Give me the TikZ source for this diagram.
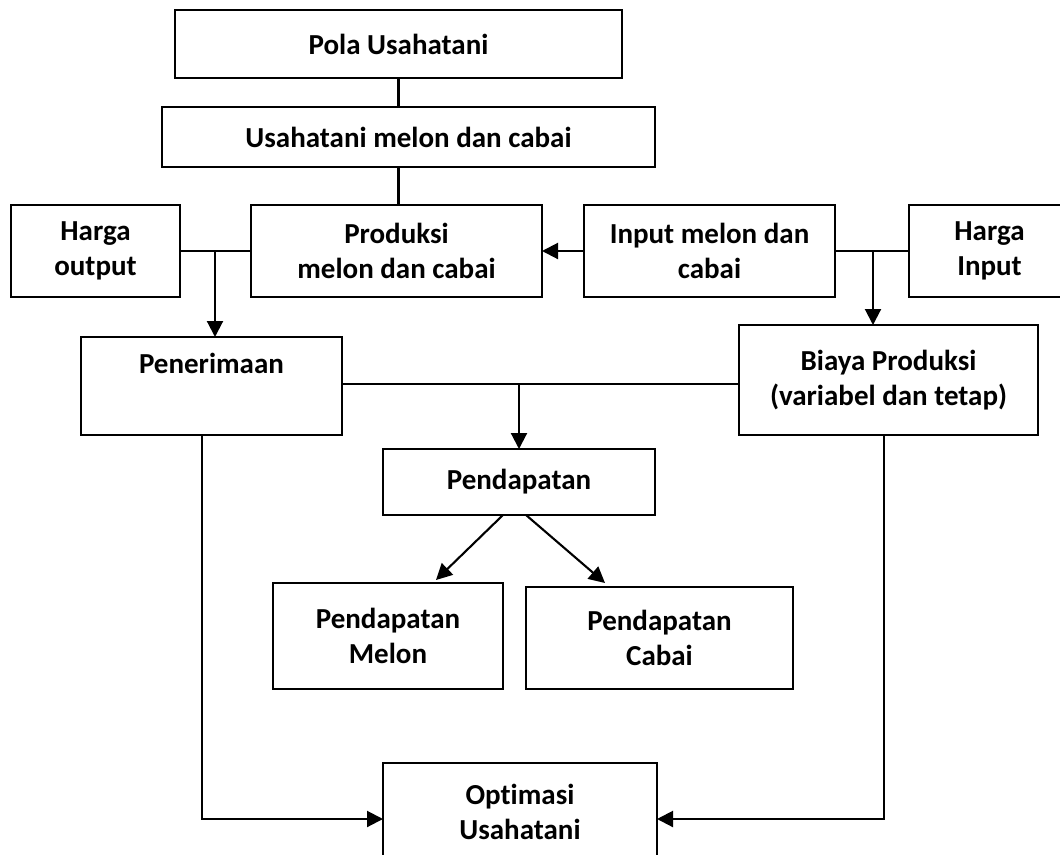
\documentclass[tikz,border=0pt]{standalone}
\usepackage{fontspec}
\setmainfont{Carlito}[Ligatures=NoCommon]
\usepackage{tikz}
\usetikzlibrary{calc,arrows.meta}

\begin{document}
\begin{tikzpicture}[x=1pt,y=-1pt,>={Triangle[length=16pt,width=16pt]},
    kotak/.style={draw,line width=2.2pt,inner sep=0pt,outer sep=0pt,align=center,
        font=\fontsize{29}{35}\selectfont\bfseries},
    garis/.style={line width=2.1pt}]
			\useasboundingbox (0,0) rectangle (1060,854);
			\clip (0,0) rectangle (1060,854);
			
			\node[kotak,minimum width=447pt,minimum height=68pt] (pola) at (398.5,44) {Pola Usahatani};
			\node[kotak,minimum width=493pt,minimum height=60pt] (usaha) at (408.5,137) {Usahatani melon dan cabai};
			
			\node[kotak,minimum width=169pt,minimum height=92pt] (hout) at (95.5,251) {Harga\\output};
			\node[kotak,minimum width=291pt,minimum height=92pt] (prod) at (396.5,251) {Produksi\\melon dan cabai};
			\node[kotak,minimum width=251pt,minimum height=92pt] (inp) at (709.5,251) {Input melon dan\\cabai};
			\node[kotak,minimum width=161pt,minimum height=92pt] (hin) at (989.5,251) {Harga\\Input};
			
			\node[kotak,minimum width=261pt,minimum height=98pt] (pen) at (211.5,386) {Penerimaan\\\strut};
			\node[kotak,minimum width=299pt,minimum height=110pt] (biaya) at (888.5,380) {Biaya Produksi\\(variabel dan tetap)};
			
			\node[kotak,minimum width=272pt,minimum height=66pt] (pdpt) at (519,482) {Pendapatan};
			\node[kotak,minimum width=230pt,minimum height=106pt] (melon) at (388,636) {Pendapatan\\Melon};
			\node[kotak,minimum width=267pt,minimum height=102pt] (cabai) at (659.5,638) {Pendapatan\\Cabai};
			
			\node[kotak,minimum width=274pt,minimum height=97pt] (opt) at (520,811.5) {Optimasi\\Usahatani};
			
			\coordinate (jual) at (215,251);
			\coordinate (beli) at (873,251);
			\coordinate (untung) at (519,384);
			
			\draw[garis] (pola.south) -- (pola.south |- usaha.north);
			\draw[garis] (pola.south |- usaha.south) -- (pola.south |- prod.north);
			
			\draw[garis] (hout.east) -- (prod.west);
			\draw[garis,->] (jual) -- (jual |- pen.north);
			\draw[garis,->] (inp.west) -- (prod.east);
			\draw[garis] (inp.east) -- (hin.west);
			\draw[garis,->] (beli) -- (beli |- biaya.north);
			
			\draw[garis] (untung -| pen.east) -- (untung -| biaya.west);
			\draw[garis,->] (untung) -- (pdpt.north);
			
			\draw[garis,->] ([xshift=-16pt]pdpt.south) -- ([xshift=48pt,yshift=3pt]melon.north);
			\draw[garis,->] ([xshift=7pt]pdpt.south) -- ([xshift=-54.5pt,yshift=4pt]cabai.north);
			
			\draw[garis,->] ([xshift=-9.5pt]pen.south) |- ([yshift=-7.5pt]opt.west);
			\draw[garis,->] ([xshift=-4.5pt]biaya.south) |- ([yshift=-7.5pt]opt.east);
		\end{tikzpicture}
\end{document}
